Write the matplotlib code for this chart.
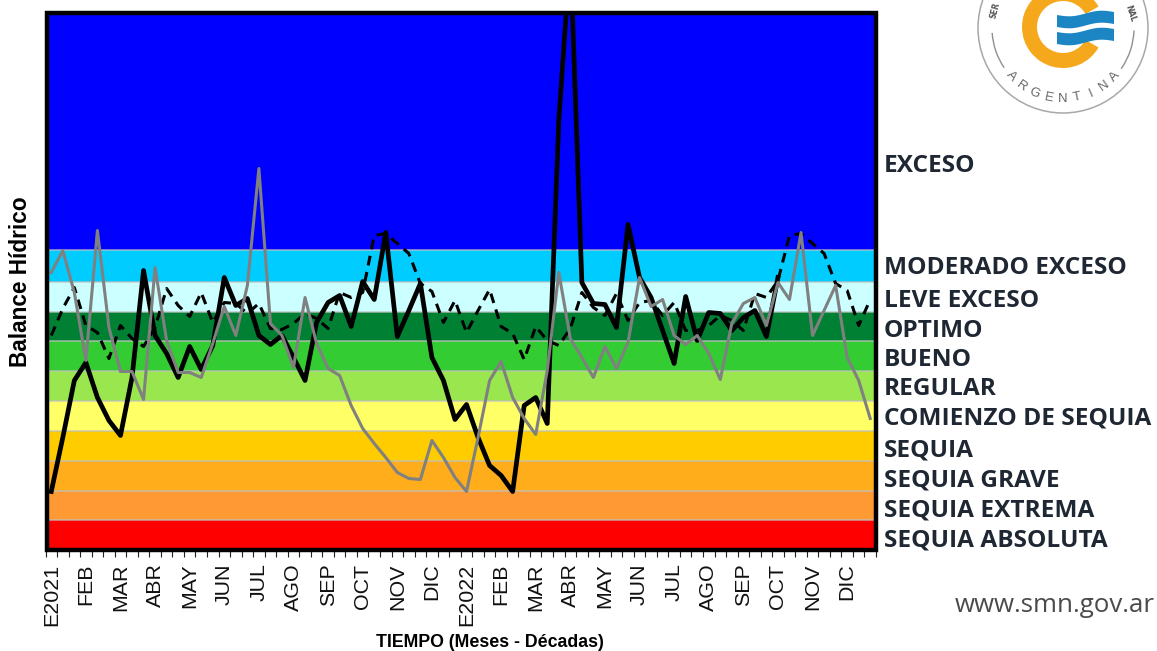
import numpy as np
import matplotlib
matplotlib.use('Agg')
import matplotlib.pyplot as plt
from matplotlib.patches import Rectangle, Circle, Wedge, Arc, Polygon

# balance hidrico por decada (3 por mes, dos anios)
serie_actual = [58,112,169,187,152,129,114,172,279,214, 196,172,203,180,204,272,244,251,214,205,
                214,192,169,227,247,254,223,268,250,317, 213,239,266,192,169,130,145,112,84,74,
                58,144,152,126,429,597,267,246,245,222, 325,272,252,219,186,253,209,237,236,219,
                232,239,213,272]
serie_anterior = [277,299,257,189,319,222,178,178,150,282, 209,177,177,172,206,243,214,264,381,226,
                  214,182,252,206,181,174,144,121,106,92, 77,71,70,109,92,72,58,112,169,188,
                  152,131,115,179,277,211,192,172,203,181, 207,272,243,250,214,205,214,196,170,226,
                  246,252,224,267,250,317,214,239,264,192, 169,131]
serie_normal = [214,241,262,224,217,191,224,211,203,222, 261,244,233,257,227,247,246,236,246,221,
                220,226,236,231,221,257,252,257,314,316, 306,296,266,258,227,249,217,239,260,223,
                216,190,223,209,204,221,257,242,234,256, 229,247,249,234,247,219,219,224,234,229,
                219,256,252,269,314,316,306,296,266,259, 224,250]

meses = ['E2021','FEB','MAR','ABR','MAY','JUN','JUL','AGO','SEP','OCT','NOV','DIC',
         'E2022','FEB','MAR','ABR','MAY','JUN','JUL','AGO','SEP','OCT','NOV','DIC']

limites = [0,30,59,89,119,149,179,209,238,268,299.5,537]
colores = ['#FF0000','#FF9933','#FFAD1A','#FFCC00','#FFFF66','#99E64F','#33CC33','#008033',
           '#CCFFFF','#00CCFF','#0000FF']

categorias = ['EXCESO','MODERADO EXCESO','LEVE EXCESO','OPTIMO','BUENO','REGULAR',
              'COMIENZO DE SEQUIA','SEQUIA','SEQUIA GRAVE','SEQUIA EXTREMA','SEQUIA ABSOLUTA']
cat_y = [164,266,299,329,358,387,417,448,478,508,539]

W, H = 1157, 651
fig = plt.figure(figsize=(W/100, H/100), dpi=100)
ax = fig.add_axes([45.5/W, 1-549.5/H, (876-45.5)/W, 537/H])

for i in range(len(colores)):
    ax.axhspan(limites[i], limites[i+1], color=colores[i], lw=0, zorder=1)
for y in limites[1:-1]:
    ax.axhline(y, color='#C0C0C0', lw=1.3, alpha=0.7, zorder=2)

ax.plot(serie_normal, color='black', lw=2.2, ls=(0, (3.2, 2.2)), zorder=3)
ax.plot(serie_actual, color='black', lw=3.4, zorder=4)
ax.plot(serie_anterior, color='#808080', lw=2.2, zorder=5)

ax.set_xlim(-0.5, 71.5)
ax.set_ylim(0, 537)
ax.set_yticks([])
ax.set_xticks(np.arange(0, 72, 3))
ax.set_xticklabels(meses, rotation=90, fontsize=15.4, family='Liberation Sans', color='#111111')
ax.set_xticks(np.arange(-0.5, 72, 1), minor=True)
ax.tick_params(axis='x', which='major', length=0, pad=10)
ax.tick_params(axis='x', which='minor', length=5, width=0.8, color='#222222', pad=0)
for s in ax.spines.values():
    s.set_visible(False)

# capa en pixeles para marco, textos y logo
ov = fig.add_axes([0, 0, 1, 1], zorder=5)
ov.set_xlim(0, W)
ov.set_ylim(H, 0)
ov.axis('off')
ov.patch.set_alpha(0)

ov.add_patch(Rectangle((47, 12.5), 829, 537, fill=False, ec='black', lw=3.2))

ov.text(20.5, 282, 'Balance Hídrico', rotation=90, ha='center', va='center', fontsize=16.3,
        fontweight='bold', family='Liberation Sans')
ov.text(490, 642.5, 'TIEMPO (Meses - Décadas)', ha='center', va='center', fontsize=12.8,
        fontweight='bold', family='Liberation Sans')

for nombre, y in zip(categorias, cat_y):
    ov.text(884, y + 2, nombre, ha='left', va='center', fontsize=17.6, fontweight='bold',
            family='Open Sans', color='#1F2733')
ov.text(1155, 606, 'www.smn.gov.ar', ha='right', va='center', fontsize=18.6,
        family='Open Sans', color='#4A4A4A')

# logo SMN
cx, cy = 1063, 28
ov.add_patch(Circle((cx, cy), 85, fill=False, ec='#A8A8A8', lw=1.1))
ov.add_patch(Arc((cx, cy), 142, 142, theta1=2, theta2=35, ec='#909090', lw=1.0))
ov.add_patch(Arc((cx, cy), 142, 142, theta1=146, theta2=176, ec='#909090', lw=1.0))
ov.add_patch(Wedge((cx, cy-1), 41, 30, 330, width=15, fc='#F6A81C', ec='none'))
xs = np.linspace(1057, 1114, 30)
for top in [15, 32]:
    w = 2*np.sin((xs-1057)/57*2*np.pi) - 3*(xs-1057)/57
    pts = list(zip(xs, top+w)) + list(zip(xs[::-1], top+12+w[::-1]))
    ov.add_patch(Polygon(pts, fc='#1C85C4', ec='none'))
letras = 'ARGENTINA'
angs = np.linspace(137, 43, len(letras))
for l, a in zip(letras, angs):
    r = 71
    ov.text(cx+r*np.cos(np.radians(a)), cy+r*np.sin(np.radians(a)), l, rotation=90-a,
            ha='center', va='center', fontsize=9.5, family='Liberation Sans', color='#666666')
ov.text(995, 10, 'SER', rotation=75, ha='center', va='center', fontsize=5.5, fontweight='bold', color='#555555')
ov.text(1130, 13, 'NAL', rotation=-72, ha='center', va='center', fontsize=5.5, fontweight='bold', color='#555555')

fig.savefig('out.png', dpi=100)
